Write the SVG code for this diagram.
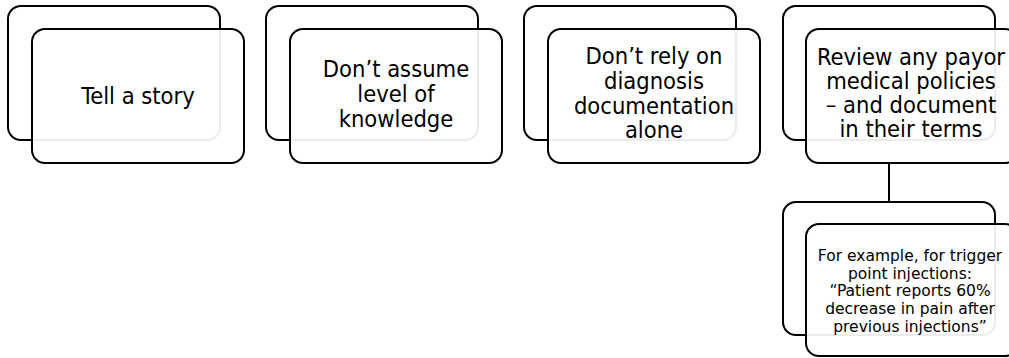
<svg xmlns="http://www.w3.org/2000/svg" width="1009" height="358" viewBox="0 0 1009 358">
  <style>
    .back { fill: #ffffff; stroke: #000000; stroke-width: 2; }
    .front { fill: #ffffff; fill-opacity: 0.92; stroke: #000000; stroke-width: 2; }
    .t { font-family: "DejaVu Sans Condensed", "DejaVu Sans", sans-serif; font-stretch: condensed; font-size: 23.5px; fill: #000000; text-anchor: middle; }
    .s { font-family: "DejaVu Sans", sans-serif; font-size: 15.5px; fill: #000000; text-anchor: middle; }
    .conn { stroke: #000000; stroke-width: 2; fill: none; }
  </style>
  <rect width="1009" height="358" fill="#ffffff"/>
  <g id="connectors">
    <line class="conn" x1="889" y1="163" x2="889" y2="202"/>
  </g>
  <g id="node1">
    <rect class="back" x="8" y="6" width="212" height="134" rx="13"/>
    <rect class="front" x="32" y="29" width="212" height="134" rx="13"/>
    <text class="t" x="138" y="104">Tell a story</text>
  </g>
  <g id="node2">
    <rect class="back" x="266" y="6" width="212" height="134" rx="13"/>
    <rect class="front" x="290" y="29" width="212" height="134" rx="13"/>
    <text class="t" x="396" y="77">Don’t assume</text>
    <text class="t" x="396" y="102">level of</text>
    <text class="t" x="396" y="127">knowledge</text>
  </g>
  <g id="node3">
    <rect class="back" x="524" y="6" width="212" height="134" rx="13"/>
    <rect class="front" x="548" y="29" width="212" height="134" rx="13"/>
    <text class="t" x="654" y="64">Don’t rely on</text>
    <text class="t" x="654" y="89">diagnosis</text>
    <text class="t" x="654" y="114">documentation</text>
    <text class="t" x="654" y="138">alone</text>
  </g>
  <g id="node4">
    <rect class="back" x="783" y="6" width="212" height="134" rx="13"/>
    <rect class="front" x="806" y="29" width="212" height="134" rx="13"/>
    <text class="t" x="911" y="65">Review any payor</text>
    <text class="t" x="911" y="89">medical policies</text>
    <text class="t" x="911" y="113">– and document</text>
    <text class="t" x="911" y="137">in their terms</text>
  </g>
  <g id="node5">
    <rect class="back" x="783" y="202" width="212" height="133" rx="13"/>
    <rect class="front" x="806" y="224" width="212" height="132" rx="13"/>
    <text class="s" x="910" y="261">For example, for trigger</text>
    <text class="s" x="910" y="279">point injections:</text>
    <text class="s" x="910" y="296">“Patient reports 60%</text>
    <text class="s" x="910" y="314">decrease in pain after</text>
    <text class="s" x="910" y="332">previous injections”</text>
  </g>
</svg>
